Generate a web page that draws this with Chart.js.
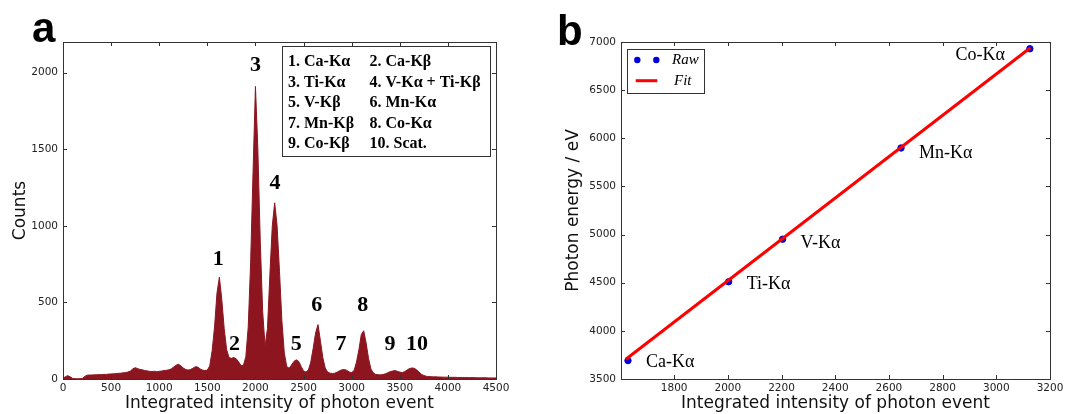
<!DOCTYPE html>
<html>
<head>
<meta charset="utf-8">
<script src="https://cdn.jsdelivr.net/npm/chart.js@4.4.1/dist/chart.umd.min.js"></script>
<style>
    body { margin: 0; background: #fff; }
    canvas { position: absolute; top: 0; }
    #histo { left: 0; }
    #calib { left: 530px; }
</style>
</head>
<body>
<canvas id="histo" width="530" height="414"></canvas>
<canvas id="calib" width="537" height="414"></canvas>
<script>
// ---- panel a : pulse height spectrum, bins of 25 starting at 0 ----
var BIN_WIDTH = 25;
var histCounts = [
    5, 15, 22, 14, 4, 2, 2, 2, 3, 16,
    25, 26, 26, 27, 28, 28, 29, 30, 30, 32,
    33, 34, 35, 37, 38, 40, 42, 45, 52, 66,
    74, 68, 62, 60, 55, 53, 50, 48, 51, 47,
    50, 52, 55, 57, 60, 66, 78, 90, 96, 86,
    72, 62, 58, 62, 70, 80, 78, 66, 58, 55,
    58, 85, 185, 340, 560, 665, 520, 330, 195, 140,
    135, 140, 132, 112, 88, 90, 145, 340, 760, 1350,
    1910, 1500, 900, 440, 215, 330, 680, 1000, 1150, 1000,
    700, 380, 170, 82, 70, 92, 115, 125, 115, 82,
    52, 45, 58, 110, 200, 300, 355, 250, 140, 72,
    45, 38, 36, 38, 45, 54, 60, 62, 56, 46,
    42, 55, 110, 190, 290, 315, 235, 135, 65, 40,
    30, 28, 27, 29, 34, 41, 48, 52, 55, 50,
    45, 42, 48, 58, 68, 72, 70, 60, 45, 31,
    23, 18, 16, 15, 14, 14, 13, 13, 12, 12,
    12, 11, 11, 11, 10, 10, 10, 10, 9, 9,
    9, 9, 8, 8, 8, 8, 8, 7, 7, 7,
    7
];
var histXTicks = [0, 500, 1000, 1500, 2000, 2500, 3000, 3500, 4000, 4500];
var histYTicks = [0, 500, 1000, 1500, 2000];
var peakNames = ['1', '2', '3', '4', '5', '6', '7', '8', '9', '10'];
var peakLabelX = [1614, 1783, 2001, 2203, 2423, 2637, 2890, 3114, 3398, 3678];
var peakLabelY = [787, 232, 2055, 1287, 232, 487, 232, 487, 232, 232];
var peakLegend = [
    ['1. Ca-K\u03b1', '2. Ca-K\u03b2'],
    ['3. Ti-K\u03b1', '4. V-K\u03b1 + Ti-K\u03b2'],
    ['5. V-K\u03b2', '6. Mn-K\u03b1'],
    ['7. Mn-K\u03b2', '8. Co-K\u03b1'],
    ['9. Co-K\u03b2', '10. Scat.']
];

// ---- panel b : energy calibration ----
var rawX = [1628, 2003, 2204, 2645, 3125];
var rawY = [3691, 4510, 4952, 5899, 6930];
var rawNames = ['Ca-K\u03b1', 'Ti-K\u03b1', 'V-K\u03b1', 'Mn-K\u03b1', 'Co-K\u03b1'];
var fitX = [1620, 3127];
var fitY = [3705, 6940];
var calibXTicks = [1800, 2000, 2200, 2400, 2600, 2800, 3000, 3200];
var calibYTicks = [3500, 4000, 4500, 5000, 5500, 6000, 6500, 7000];

var HIST_RED = '#8c1520';
var AXIS_COL = '#333';
var TICK_FONT = { family: 'DejaVu Sans', size: 10.5 };
var TITLE_FONT = '17px "DejaVu Sans"';

function fixBox(size, isX) {
    return function (scale) {
        if (isX) scale.height = size; else scale.width = size;
        scale.paddingLeft = 0; scale.paddingRight = 0;
        scale.paddingTop = 0; scale.paddingBottom = 0;
    };
}

function axisOpts(min, max, tickList, box, isX, pad) {
    return {
        type: 'linear', min: min, max: max,
        grid: { display: false, drawTicks: false },
        border: { display: false },
        ticks: {
            color: '#222', font: TICK_FONT, padding: pad, maxRotation: 0, autoSkip: false,
            callback: function (v) { return String(v); }
        },
        afterBuildTicks: function (scale) {
            scale.ticks = tickList.map(function (v) { return { value: v }; });
        },
        afterFit: fixBox(box, isX)
    };
}

// frame with inward ticks on all four sides, like the old matplotlib style
function drawFrame(chart) {
    var ctx = chart.ctx, a = chart.chartArea;
    var xs = chart.scales.x, ys = chart.scales.y;
    ctx.save();
    ctx.strokeStyle = AXIS_COL;
    ctx.lineWidth = 1;
    ctx.beginPath();
    xs.ticks.forEach(function (t) {
        var px = Math.round(xs.getPixelForValue(t.value)) + 0.5;
        ctx.moveTo(px, a.bottom); ctx.lineTo(px, a.bottom - 4);
        ctx.moveTo(px, a.top); ctx.lineTo(px, a.top + 4);
    });
    ys.ticks.forEach(function (t) {
        var py = Math.round(ys.getPixelForValue(t.value)) + 0.5;
        ctx.moveTo(a.left, py); ctx.lineTo(a.left + 4, py);
        ctx.moveTo(a.right, py); ctx.lineTo(a.right - 4, py);
    });
    ctx.stroke();
    ctx.strokeRect(Math.round(a.left) + 0.5, Math.round(a.top) + 0.5,
        Math.round(a.right - a.left), Math.round(a.bottom - a.top));
    ctx.restore();
}

function drawTitles(ctx, a, xTitle, yTitle, yTitleX, letter, letterX, letterY) {
    ctx.save();
    ctx.fillStyle = '#111';
    ctx.font = TITLE_FONT;
    ctx.textAlign = 'center';
    ctx.textBaseline = 'middle';
    ctx.fillText(xTitle, (a.left + a.right) / 2, a.bottom + 25);
    ctx.translate(yTitleX, (a.top + a.bottom) / 2);
    ctx.rotate(-Math.PI / 2);
    ctx.fillText(yTitle, 0, 0);
    ctx.restore();
    ctx.save();
    ctx.fillStyle = '#000';
    ctx.font = 'bold 42px "Liberation Sans"';
    ctx.textBaseline = 'alphabetic';
    ctx.fillText(letter, letterX, letterY);
    ctx.restore();
}

var histoDecor = {
    id: 'histoDecor',
    afterDraw: function (chart) {
        var ctx = chart.ctx, a = chart.chartArea;
        var xs = chart.scales.x, ys = chart.scales.y;
        drawFrame(chart);
        ctx.save();
        ctx.fillStyle = '#000';
        ctx.font = 'bold 22px "Liberation Serif"';
        ctx.textAlign = 'center';
        ctx.textBaseline = 'middle';
        peakNames.forEach(function (n, i) {
            ctx.fillText(n, xs.getPixelForValue(peakLabelX[i]), ys.getPixelForValue(peakLabelY[i]) + 1);
        });
        // legend box
        var bx = a.left + 219.5, by = a.top + 4.5;
        ctx.fillStyle = '#fff';
        ctx.fillRect(bx, by, 208, 110);
        ctx.strokeStyle = AXIS_COL;
        ctx.lineWidth = 1;
        ctx.strokeRect(bx, by, 208, 110);
        ctx.fillStyle = '#000';
        ctx.font = 'bold 16px "Liberation Serif"';
        ctx.textAlign = 'left';
        peakLegend.forEach(function (row, i) {
            var y = a.top + 20 + i * 20.5;
            ctx.fillText(row[0], bx + 5.5, y);
            ctx.fillText(row[1], bx + 87, y);
        });
        ctx.restore();
        drawTitles(ctx, a, 'Integrated intensity of photon event', 'Counts', a.left - 42, 'a', 32, 42);
    }
};

var calibDecor = {
    id: 'calibDecor',
    afterDraw: function (chart) {
        var ctx = chart.ctx, a = chart.chartArea;
        var xs = chart.scales.x, ys = chart.scales.y;
        drawFrame(chart);
        ctx.save();
        ctx.fillStyle = '#000';
        ctx.font = '18px "Liberation Serif"';
        ctx.textBaseline = 'middle';
        rawNames.forEach(function (n, i) {
            var px = xs.getPixelForValue(rawX[i]), py = ys.getPixelForValue(rawY[i]);
            if (i === rawNames.length - 1) {
                ctx.textAlign = 'right';
                ctx.fillText(n, px - 25, py + 7);
            } else {
                ctx.textAlign = 'left';
                ctx.fillText(n, px + 18, py + 2 + i);
            }
        });
        // legend
        var bx = a.left + 6.5, by = a.top + 7.5;
        ctx.fillStyle = '#fff';
        ctx.fillRect(bx, by, 77, 44);
        ctx.strokeStyle = AXIS_COL;
        ctx.lineWidth = 1;
        ctx.strokeRect(bx, by, 77, 44);
        ctx.fillStyle = '#0000dd';
        [16.3, 35.3].forEach(function (dx) {
            ctx.beginPath();
            ctx.arc(a.left + dx, a.top + 18, 3.2, 0, Math.PI * 2);
            ctx.fill();
        });
        ctx.strokeStyle = '#ff0000';
        ctx.lineWidth = 3;
        ctx.beginPath();
        ctx.moveTo(a.left + 14.7, a.top + 38.7);
        ctx.lineTo(a.left + 36.3, a.top + 38.7);
        ctx.stroke();
        ctx.fillStyle = '#000';
        ctx.font = 'italic 15px "Liberation Serif"';
        ctx.textAlign = 'left';
        ctx.fillText('Raw', a.left + 51, a.top + 18);
        ctx.fillText('Fit', a.left + 53, a.top + 39);
        ctx.restore();
        drawTitles(ctx, a, 'Integrated intensity of photon event', 'Photon energy / eV', a.left - 47, 'b', 27, 45);
    }
};

new Chart(document.getElementById('histo'), {
    type: 'line',
    data: {
        datasets: [{
            data: histCounts.map(function (c, i) { return { x: i * BIN_WIDTH, y: c }; }),
            borderColor: HIST_RED,
            backgroundColor: HIST_RED,
            borderWidth: 1,
            fill: 'origin',
            pointRadius: 0,
            tension: 0
        }]
    },
    options: {
        responsive: false,
        animation: false,
        devicePixelRatio: 1,
        layout: { padding: { top: 42, right: 34, left: 0, bottom: 0 } },
        plugins: { legend: { display: false }, tooltip: { enabled: false } },
        scales: {
            x: axisOpts(0, 4500, histXTicks, 35, true, 3),
            y: axisOpts(0, 2200, histYTicks, 63, false, 5)
        }
    },
    plugins: [histoDecor]
});

new Chart(document.getElementById('calib'), {
    type: 'scatter',
    data: {
        datasets: [{
            label: 'Fit',
            data: fitX.map(function (x, i) { return { x: x, y: fitY[i] }; }),
            showLine: true,
            borderColor: '#ff0000',
            borderWidth: 3,
            pointRadius: 0,
            order: 0
        }, {
            label: 'Raw',
            data: rawX.map(function (x, i) { return { x: x, y: rawY[i] }; }),
            backgroundColor: '#0000dd',
            borderColor: '#0000dd',
            pointRadius: 3.2,
            order: 1
        }]
    },
    options: {
        responsive: false,
        animation: false,
        devicePixelRatio: 1,
        layout: { padding: { top: 42, right: 17, left: 0, bottom: 0 } },
        plugins: { legend: { display: false }, tooltip: { enabled: false } },
        scales: {
            x: axisOpts(1602, 3200, calibXTicks, 35, true, 3),
            y: axisOpts(3500, 7000, calibYTicks, 91, false, 5)
        }
    },
    plugins: [calibDecor]
});
</script>
</body>
</html>
